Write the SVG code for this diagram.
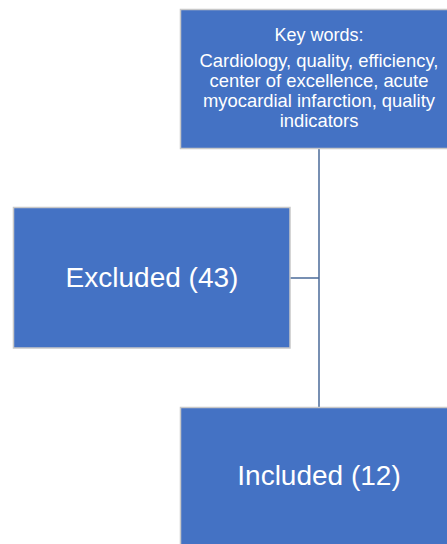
<svg xmlns="http://www.w3.org/2000/svg" width="447" height="544" viewBox="0 0 447 544">
<style>
.box{fill:#4472C4;stroke:#C8C8C8;stroke-width:1.5}
.t{font-family:"Liberation Sans",Arial,sans-serif;fill:#FFFFFF;text-anchor:middle}
.s{font-size:18.4px}
.k{font-size:18px}
.b{font-size:28px}
.c{fill:none;stroke:#4A6A98;stroke-width:1.5}
</style>
<rect width="447" height="544" fill="#FFFFFF"/>
<g id="connectors">
<line class="c" x1="319" y1="149" x2="319" y2="407"/>
<line class="c" x1="290" y1="278" x2="319" y2="278"/>
</g>
<g id="keywords">
<rect class="box" x="180.5" y="9.5" width="280" height="139"/>
<text class="t k" x="319" y="41">Key words:</text>
<text class="t s" x="319" y="67">Cardiology, quality, efficiency,</text>
<text class="t s" x="319" y="87">center of excellence, acute</text>
<text class="t s" x="319" y="107">myocardial infarction, quality</text>
<text class="t s" x="319" y="127">indicators</text>
</g>
<g id="excluded">
<rect class="box" x="13.5" y="207.5" width="276.5" height="140.5"/>
<text class="t b" x="152" y="287">Excluded (43)</text>
</g>
<g id="included">
<rect class="box" x="180.5" y="407.5" width="280" height="150"/>
<text class="t b" x="319" y="485">Included (12)</text>
</g>
</svg>
